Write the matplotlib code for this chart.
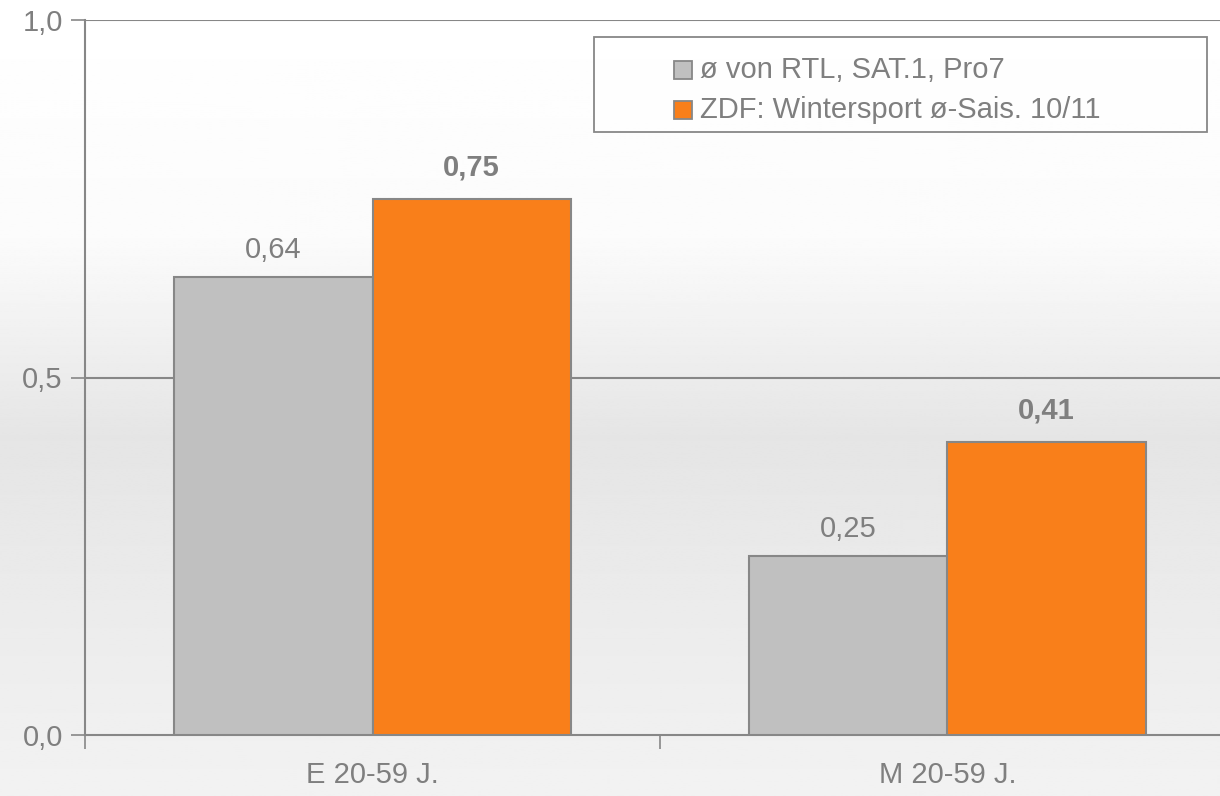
import numpy as np
import matplotlib.pyplot as plt
from matplotlib.patches import Rectangle

plt.rcParams['font.family'] = ['Liberation Sans', 'DejaVu Sans']

categories = ['E 20-59 J.', 'M 20-59 J.']
series_names = ['ø von RTL, SAT.1, Pro7', 'ZDF: Wintersport ø-Sais. 10/11']
privat = [0.64, 0.25]
zdf = [0.75, 0.41]
yticks = [0.0, 0.5, 1.0]

text_col = '#7f7f7f'
line_col = '#878787'
colors = ['#c0c0c0', '#f97f1a']
fs = 21

W, H = 1220, 796
fig = plt.figure(figsize=(W/100, H/100), dpi=100)

# background gradient: white top, light gray middle, a bit lighter at bottom
bg = fig.add_axes([0, 0, 1, 1], zorder=-10)
yy = np.linspace(0, 1, 400)
shade = np.interp(yy, [0, 0.3, 0.55, 0.75, 1.0], [255, 251, 229, 235, 242]) / 255
bg.imshow(np.tile(shade[:, None], (1, 2)), cmap='gray', vmin=0, vmax=1,
          aspect='auto', extent=[0, 1, 0, 1], origin='upper')
bg.axis('off')

ax = fig.add_axes([85/W, 61/H, 1150/W, 715/H])
ax.patch.set_alpha(0)

x = np.arange(len(categories))
w = 0.345
b1 = ax.bar(x - w/2, privat, w, color=colors[0], edgecolor=line_col, linewidth=1.5, zorder=3)
b2 = ax.bar(x + w/2, zdf, w, color=colors[1], edgecolor=line_col, linewidth=1.5, zorder=3)

for rect, v in zip(b1, privat):
    ax.annotate(f'{v:.2f}'.replace('.', ','), (rect.get_x() + rect.get_width()/2, v),
                xytext=(0, 19.5), textcoords='offset points', ha='center', va='center',
                fontsize=fs, color=text_col)
for rect, v in zip(b2, zdf):
    ax.annotate(f'{v:.2f}'.replace('.', ','), (rect.get_x() + rect.get_width()/2, v),
                xytext=(0, 22.5), textcoords='offset points', ha='center', va='center',
                fontsize=fs, color=text_col, fontweight='bold')

ax.set_xlim(-0.5, 1.5)
ax.set_ylim(0, 1.0)
ax.set_yticks(yticks)
ax.set_yticklabels([f'{t:.1f}'.replace('.', ',') for t in yticks])
for t in yticks[1:]:
    ax.axhline(t, color=line_col, linewidth=1.5, zorder=1)

ax.set_xticks([-0.5, 0.5, 1.5])
ax.set_xticklabels([])
ax.set_xticks(x, minor=True)
ax.set_xticklabels(categories, minor=True)
ax.tick_params(axis='x', which='major', direction='out', length=10, width=1.2, color=line_col)
ax.tick_params(axis='x', which='minor', length=0, pad=19, labelsize=fs, labelcolor=text_col)
ax.tick_params(axis='y', direction='out', length=10, width=1.2, color=line_col,
               labelsize=fs, labelcolor=text_col, pad=6)

for s in ['top', 'right']:
    ax.spines[s].set_visible(False)
for s in ['left', 'bottom']:
    ax.spines[s].set_color(line_col)
    ax.spines[s].set_linewidth(1.5)

# legend box drawn by hand to match the wide frame of the original
fig.patches.append(Rectangle((594/W, 1 - 132/H), (1207 - 594)/W, (132 - 37)/H,
                             transform=fig.transFigure, facecolor='white', alpha=0.5,
                             edgecolor='none'))
fig.patches.append(Rectangle((594/W, 1 - 132/H), (1207 - 594)/W, (132 - 37)/H,
                             transform=fig.transFigure, facecolor='none',
                             edgecolor=line_col, linewidth=1.3))
for i, (name, col) in enumerate(zip(series_names, colors)):
    yc = 70 + 40 * i
    fig.patches.append(Rectangle((674/W, 1 - (yc + 9)/H), 18/W, 18/H,
                                 transform=fig.transFigure, facecolor=col,
                                 edgecolor=line_col, linewidth=1.3))
    fig.text(700/W, 1 - yc/H, name, ha='left', va='center', fontsize=fs, color=text_col)

fig.savefig('out.png', dpi=100)
